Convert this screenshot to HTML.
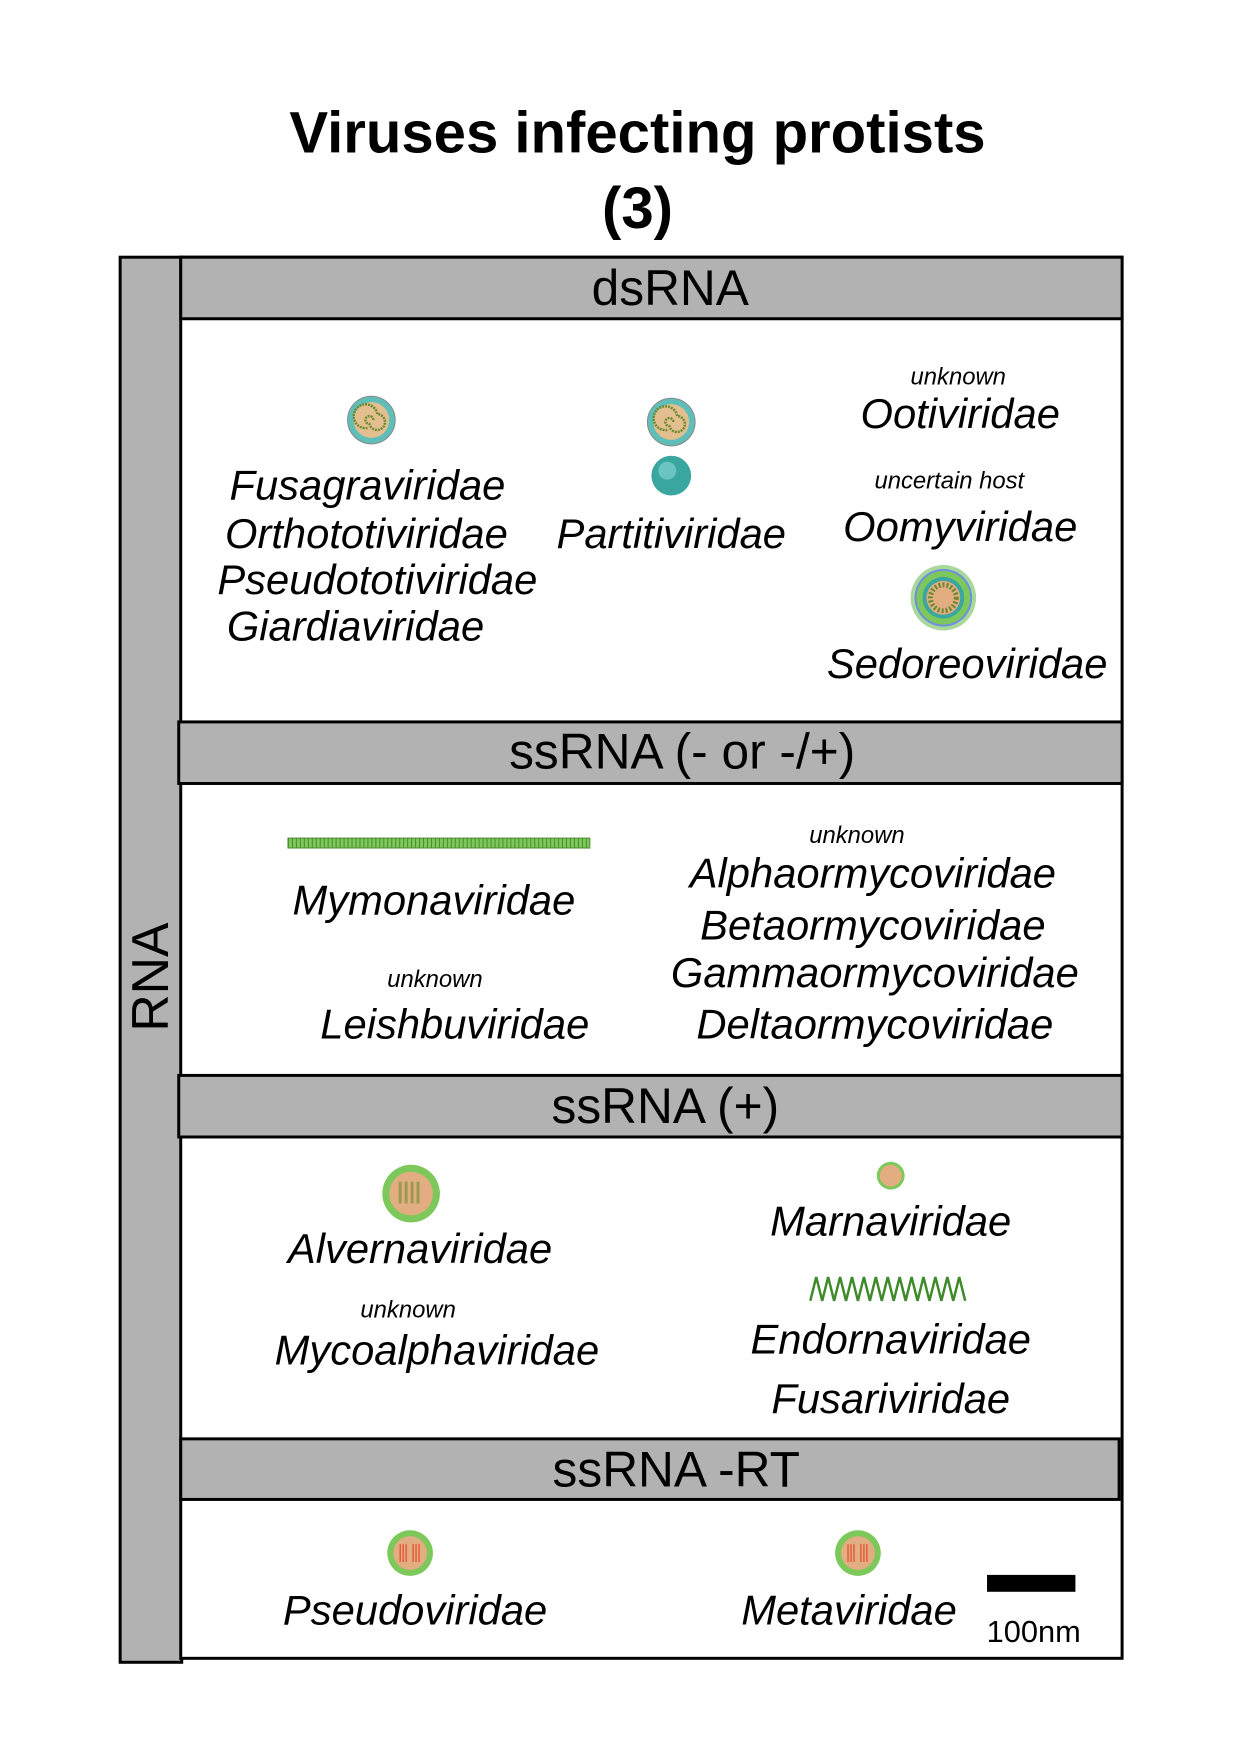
<!DOCTYPE html>
<html><head><meta charset="utf-8"><style>
html,body{margin:0;padding:0;background:#fff}
body{width:1243px;height:1755px;position:relative;overflow:hidden;font-family:"Liberation Sans",sans-serif}
#w{position:absolute;left:0;top:0;width:1243px;height:1755px;transform:scale(0.993);transform-origin:0 0}
.t{position:absolute;transform:translate(-50%,-50%);white-space:nowrap;line-height:1}
.i{font-style:italic;font-size:42px}
.s{font-style:italic;font-size:24px}
.h{font-size:50px}
</style></head><body><div id="w">
<svg width="1243" height="1755" style="position:absolute;left:0;top:0">
<defs>
<g id="tot">
 <circle r="24" fill="#5fbfb8" stroke="#888" stroke-width="1"/>
 <circle r="18" fill="#e3bf8f"/>
 <path d="M2,0 a4,4 0 1,0 -4,4 a8,8 0 1,0 8,-10 a12,12 0 1,0 -10,14" fill="none" stroke="#6a8a30" stroke-width="2.5" stroke-dasharray="2 1"/>
</g>
<g id="rt">
 <circle r="23" fill="#7cc85a"/>
 <circle r="17" fill="#e2ad80"/>
 <g stroke="#e8482c" stroke-width="1.2">
  <line x1="-10" y1="-9" x2="-10" y2="9"/><line x1="-7" y1="-9" x2="-7" y2="9"/><line x1="-4" y1="-9" x2="-4" y2="9"/>
  <line x1="3" y1="-9" x2="3" y2="9"/><line x1="6" y1="-9" x2="6" y2="9"/><line x1="9" y1="-9" x2="9" y2="9"/>
 </g>
</g>
</defs>
<rect x="121" y="259" width="62" height="1415" fill="#b2b2b2" stroke="#000" stroke-width="3"/>
<rect x="182" y="259" width="948" height="1411" fill="#fff" stroke="#000" stroke-width="3"/>
<rect x="182" y="259" width="948" height="62" fill="#b2b2b2" stroke="#000" stroke-width="3"/>
<rect x="180" y="727" width="950" height="62" fill="#b2b2b2" stroke="#000" stroke-width="3"/>
<rect x="180" y="1083" width="950" height="62" fill="#b2b2b2" stroke="#000" stroke-width="3"/>
<rect x="182" y="1449" width="945" height="61" fill="#b2b2b2" stroke="#000" stroke-width="3"/>
<use href="#tot" x="374" y="423"/>
<use href="#tot" x="676" y="425"/>
<circle cx="676" cy="479" r="20" fill="#3aa6a0"/>
<circle cx="672" cy="474" r="9" fill="#7fd2cc" opacity="0.7"/>
<g transform="translate(950,602)">
 <circle r="33" fill="#a8d89a"/><circle r="29" fill="#6f8fe0"/><circle r="27" fill="#7cc85a"/>
 <circle r="21" fill="#3aa6a0"/><circle r="17" fill="#e2ad80"/>
 <circle r="13" fill="none" stroke="#6a8a30" stroke-width="5" stroke-dasharray="2 2"/>
</g>
<rect x="290" y="844" width="304" height="10" fill="#7cc85a" stroke="#4c8a30" stroke-width="1"/>
<path d="M290,849 h304" stroke="#4c8a30" stroke-width="10" stroke-dasharray="1 3"/>
<g transform="translate(414,1202)">
 <circle r="29" fill="#7cc85a"/><circle r="22" fill="#e2ad80"/>
 <path d="M-11,-12 v22 M-5,-12 v22 M1,-12 v22 M7,-12 v22" stroke="#9a9a50" stroke-width="3" fill="none"/>
</g>
<g transform="translate(897,1184)">
 <circle r="14" fill="#7cc85a"/><circle r="11" fill="#e2ad80"/>
</g>
<path d="M816,1310 l6,-24 l6,24 l6,-24 l6,24 l6,-24 l6,24 l6,-24 l6,24 l6,-24 l6,24 l6,-24 l6,24 l6,-24 l6,24 l6,-24 l6,24 l6,-24 l6,24 l6,-24 l6,24 l6,-24 l6,24 l6,-24 l6,24 l6,-24 l6,24" fill="none" stroke="#3f8a2a" stroke-width="2.5"/>
<use href="#rt" x="413" y="1564"/>
<use href="#rt" x="864" y="1564"/>
<rect x="994" y="1586" width="89" height="17" fill="#000"/>
</svg>
<div class="t" style="left:642px;top:135px;font-size:58.5px;font-weight:bold">Viruses infecting protists</div>
<div class="t" style="left:642px;top:211px;font-size:58.5px;font-weight:bold">(3)</div>
<div class="t" style="left:152px;top:984px;font-size:52px;transform:translate(-50%,-50%) rotate(-90deg)">RNA</div>
<div class="t h" style="left:675px;top:290px">dsRNA</div>
<div class="t h" style="left:687px;top:757px">ssRNA (- or -/+)</div>
<div class="t h" style="left:670px;top:1114px">ssRNA (+)</div>
<div class="t h" style="left:681px;top:1480px">ssRNA -RT</div>

<div class="t i" style="left:370px;top:489px">Fusagraviridae</div>
<div class="t i" style="left:369px;top:538px">Orthototiviridae</div>
<div class="t i" style="left:380px;top:584px">Pseudototiviridae</div>
<div class="t i" style="left:358px;top:631px">Giardiaviridae</div>
<div class="t i" style="left:676px;top:538px">Partitiviridae</div>
<div class="t s" style="left:965px;top:380px">unknown</div>
<div class="t i" style="left:967px;top:417px">Ootiviridae</div>
<div class="t s" style="left:956px;top:485px">uncertain host</div>
<div class="t i" style="left:967px;top:531px">Oomyviridae</div>
<div class="t i" style="left:974px;top:669px">Sedoreoviridae</div>

<div class="t i" style="left:437px;top:907px">Mymonaviridae</div>
<div class="t s" style="left:438px;top:987px">unknown</div>
<div class="t i" style="left:458px;top:1032px">Leishbuviridae</div>
<div class="t s" style="left:863px;top:842px">unknown</div>
<div class="t i" style="left:879px;top:880px">Alphaormycoviridae</div>
<div class="t i" style="left:879px;top:932px">Betaormycoviridae</div>
<div class="t i" style="left:881px;top:980px">Gammaormycoviridae</div>
<div class="t i" style="left:881px;top:1032px">Deltaormycoviridae</div>

<div class="t i" style="left:423px;top:1258px">Alvernaviridae</div>
<div class="t s" style="left:411px;top:1320px">unknown</div>
<div class="t i" style="left:440px;top:1360px">Mycoalphaviridae</div>
<div class="t i" style="left:897px;top:1230px">Marnaviridae</div>
<div class="t i" style="left:897px;top:1349px">Endornaviridae</div>
<div class="t i" style="left:897px;top:1409px">Fusariviridae</div>

<div class="t i" style="left:418px;top:1622px">Pseudoviridae</div>
<div class="t i" style="left:855px;top:1622px">Metaviridae</div>
<div class="t" style="left:1041px;top:1643px;font-size:31px">100nm</div>
</div></body></html>
